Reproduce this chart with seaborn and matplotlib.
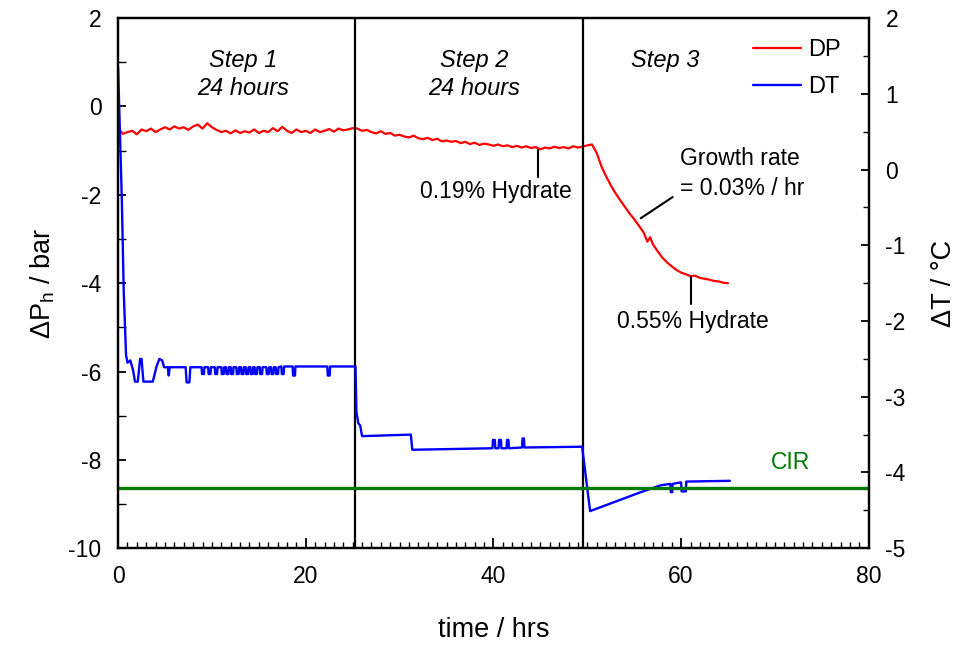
import matplotlib
matplotlib.use("Agg")
import matplotlib.pyplot as plt
import pandas as pd
import seaborn as sns
from matplotlib.ticker import MultipleLocator

# ---------------- data ----------------
dp_time = [0, 0.25, 0.5, 1, 1.5, 2, 2.5, 3, 3.5, 4, 4.5, 5, 5.5, 6, 6.5, 7, 7.5, 8, 8.5, 9,
           9.5, 10, 10.5, 11, 11.5, 12, 12.5, 13, 13.5, 14, 14.5, 15, 15.5, 16, 16.5, 17,
           17.5, 18, 18.5, 19, 19.5, 20, 20.5, 21, 21.5, 22, 22.5, 23, 23.5, 24, 24.5, 25,
           25.5, 26, 26.5, 27, 27.5, 28, 28.5, 29, 29.5, 30, 30.5, 31, 31.5, 32, 32.5, 33,
           33.5, 34, 34.5, 35, 35.5, 36, 36.5, 37, 37.5, 38, 38.5, 39, 39.5, 40, 40.5, 41,
           41.5, 42, 42.5, 43, 43.5, 44, 44.5, 45, 45.5, 46, 46.5, 47, 47.5, 48, 48.5, 49,
           49.5, 50.0, 50.5, 51.0, 51.5, 52.0, 52.5, 53.0, 53.5, 54.0, 54.5, 55.0, 55.5,
           56.0, 56.4, 56.7, 57.0, 57.5, 58.0, 58.5, 59.0, 59.5, 60.0, 60.5, 61.0, 61.5,
           62.0, 62.5, 63.0, 63.5, 64.0, 64.5, 65.0]
dp_bar = [-0.85, -0.55, -0.62, -0.58, -0.55, -0.63, -0.52, -0.56, -0.50, -0.58, -0.52, -0.47,
          -0.52, -0.45, -0.50, -0.47, -0.53, -0.45, -0.41, -0.50, -0.38, -0.47, -0.53, -0.58,
          -0.55, -0.61, -0.54, -0.60, -0.56, -0.59, -0.52, -0.60, -0.55, -0.58, -0.49, -0.56,
          -0.46, -0.55, -0.60, -0.52, -0.58, -0.55, -0.60, -0.52, -0.58, -0.55, -0.51, -0.57,
          -0.50, -0.54, -0.52, -0.49,
          -0.50, -0.55, -0.53, -0.58, -0.61, -0.56, -0.62, -0.60, -0.66, -0.64, -0.68, -0.70,
          -0.66, -0.72, -0.74, -0.71, -0.76, -0.73, -0.79, -0.77, -0.80, -0.78, -0.83, -0.80,
          -0.85, -0.82, -0.87, -0.84, -0.86, -0.89, -0.86, -0.90, -0.88, -0.92, -0.89, -0.93,
          -0.90, -0.94, -0.92, -0.97, -0.93, -0.95, -0.91, -0.94, -0.92, -0.95, -0.90, -0.93,
          -0.91,
          -0.88, -0.86, -1.05, -1.35, -1.58, -1.78, -1.96, -2.12, -2.27, -2.42, -2.55, -2.70,
          -2.85, -3.06, -2.96, -3.12, -3.28, -3.42, -3.53, -3.62, -3.70, -3.76, -3.80, -3.84,
          -3.83, -3.88, -3.90, -3.92, -3.95, -3.96, -3.99, -4.00]

dt_time = [0.0, 0.2, 0.4, 0.6, 0.85, 1.0, 1.3, 1.6, 1.8, 2.1, 2.35, 2.5, 2.7, 3.7, 4.1, 4.4,
           4.7, 4.9, 5.3, 5.4, 5.5, 7.2, 7.3, 7.6, 7.7,
           8.9, 8.95, 9.15, 9.2, 9.6, 9.65, 9.85, 9.9, 10.3, 10.35, 10.55, 10.6,
           11.0, 11.05, 11.25, 11.3, 11.5, 11.55, 11.75, 11.8, 12.0, 12.05, 12.25, 12.3,
           12.6, 12.65, 12.85, 12.9, 13.1, 13.15, 13.35, 13.4, 13.6, 13.65, 13.85, 13.9,
           14.1, 14.15, 14.35, 14.4, 14.55, 14.6, 14.8, 14.85, 15.1, 15.15, 15.35, 15.4,
           15.8, 15.85, 16.05, 16.1, 16.3, 16.35, 16.55, 16.6, 16.8, 16.85, 17.05, 17.1,
           17.4, 17.45, 17.65, 17.7, 18.6, 18.65, 18.85, 18.9, 22.3, 22.35, 22.55, 22.6,
           25.3, 25.4, 25.6, 25.8, 26.0, 31.2, 31.35,
           39.9, 39.95, 40.15, 40.2, 40.55, 40.6, 40.8, 40.85, 41.4, 41.45, 41.6, 41.65,
           43.05, 43.1, 43.25, 43.3, 49.45,
           50.3, 55.7, 57.8, 58.85, 58.9, 59.05, 59.1, 60.0, 60.05, 60.5, 60.55, 65.2]
dt_degc = [1.35, 0.5, -0.4, -1.6, -2.45, -2.55, -2.52, -2.65, -2.8, -2.8, -2.5, -2.5, -2.8, -2.8,
           -2.6, -2.5, -2.52, -2.61, -2.61, -2.72, -2.61, -2.61, -2.81, -2.81, -2.61,
           -2.61, -2.70, -2.70, -2.61, -2.61, -2.70, -2.70, -2.61, -2.61, -2.70, -2.70, -2.61,
           -2.61, -2.70, -2.70, -2.61, -2.61, -2.70, -2.70, -2.61, -2.61, -2.70, -2.70, -2.61,
           -2.61, -2.70, -2.70, -2.61, -2.61, -2.70, -2.70, -2.61, -2.61, -2.70, -2.70, -2.61,
           -2.61, -2.70, -2.70, -2.61, -2.61, -2.70, -2.70, -2.61, -2.61, -2.70, -2.70, -2.61,
           -2.61, -2.70, -2.70, -2.61, -2.61, -2.70, -2.70, -2.61, -2.61, -2.70, -2.70, -2.61,
           -2.60, -2.70, -2.70, -2.60, -2.60, -2.72, -2.72, -2.60, -2.60, -2.72, -2.72, -2.60,
           -2.60, -3.20, -3.35, -3.38, -3.52, -3.50, -3.70,
           -3.68, -3.57, -3.57, -3.68, -3.68, -3.57, -3.57, -3.68, -3.68, -3.57, -3.57, -3.68,
           -3.67, -3.55, -3.55, -3.67, -3.66,
           -4.51, -4.26, -4.17, -4.15, -4.26, -4.26, -4.15, -4.13, -4.25, -4.25, -4.12, -4.11]

step_bounds = [25.3, 49.5]
cir_degc = -4.21
step_labels = ["Step 1\n24 hours", "Step 2\n24 hours", "Step 3"]
step_label_x = [13.3, 37.9, 58.3]

# ---------------- style ----------------
sns.set_style("ticks")
plt.rcParams["font.family"] = ["Liberation Sans", "DejaVu Sans"]
plt.rcParams["axes.unicode_minus"] = False
plt.rcParams["mathtext.fontset"] = "custom"
plt.rcParams["mathtext.rm"] = "Liberation Sans"
plt.rcParams["mathtext.it"] = "Liberation Sans:italic"
for k in ["text.color", "axes.labelcolor", "xtick.color", "ytick.color", "axes.edgecolor"]:
    plt.rcParams[k] = "black"

fig, ax = plt.subplots(figsize=(9.6, 6.48), dpi=100)
fig.subplots_adjust(left=0.123, right=0.905, bottom=0.154, top=0.972)
ax2 = ax.twinx()

dp_df = pd.DataFrame({"time": dp_time, "dp": dp_bar})
dt_df = pd.DataFrame({"time": dt_time, "dt": dt_degc})

sns.lineplot(data=dp_df, x="time", y="dp", ax=ax, color="#ff0000", lw=1.6,
             estimator=None, sort=False, label="DP", legend=False)
sns.lineplot(data=dt_df, x="time", y="dt", ax=ax2, color="#0000ff", lw=1.7,
             estimator=None, sort=False, label="DT", legend=False)

for xb in step_bounds:
    ax.axvline(xb, color="black", lw=1.6)
ax2.axhline(cir_degc, color="#007a00", lw=2.4)

ax.set_xlim(0, 80)
ax.set_ylim(-10, 2)
ax2.set_ylim(-5, 2)

ax.xaxis.set_major_locator(MultipleLocator(20))
ax.xaxis.set_minor_locator(MultipleLocator(1))
ax.yaxis.set_major_locator(MultipleLocator(2))
ax.yaxis.set_minor_locator(MultipleLocator(1))
ax2.yaxis.set_major_locator(MultipleLocator(1))
ax2.yaxis.set_minor_locator(MultipleLocator(0.5))

for a in (ax, ax2):
    a.tick_params(which="major", direction="in", length=6, width=1.3, labelsize=16.5, pad=12)
    a.tick_params(which="minor", direction="in", length=4, width=1.0)
    for s in a.spines.values():
        s.set_linewidth(1.6)
        s.set_color("black")
ax.tick_params(axis="x", which="both", top=False)
ax.tick_params(axis="x", which="major", length=7)
ax.tick_params(axis="y", which="minor", length=6)

ax.set_xlabel("time / hrs", fontsize=19.5, labelpad=21)
ax.set_ylabel("ΔP$_\\mathrm{h}$ / bar", fontsize=19.5, labelpad=8)
ax2.set_ylabel("ΔT / °C", fontsize=19.5, labelpad=18)

# step annotations
for lx, lab in zip(step_label_x, step_labels):
    ax.text(lx, 1.3, lab, ha="center", va="top", fontsize=17, style="italic",
            linespacing=1.3)

# hydrate annotations
ax.plot([44.8, 44.8], [-0.99, -1.6], color="black", lw=1.5)
ax.text(40.3, -1.92, "0.19% Hydrate", ha="center", va="center", fontsize=16.5)
ax.plot([61.1, 61.1], [-3.86, -4.47], color="black", lw=1.5)
ax.text(61.3, -4.86, "0.55% Hydrate", ha="center", va="center", fontsize=16.5)
ax.plot([55.7, 59.1], [-2.53, -2.05], color="black", lw=1.5)
ax.text(59.9, -1.52, "Growth rate\n= 0.03% / hr", ha="left", va="center", fontsize=16.5,
        linespacing=1.38)
ax.text(71.7, -8.07, "CIR", ha="center", va="center", fontsize=16.5, color="#007a00")

h1, l1 = ax.get_legend_handles_labels()
h2, l2 = ax2.get_legend_handles_labels()
ax2.legend(h1 + h2, l1 + l2, loc="upper left", bbox_to_anchor=(0.8455, 0.960),
           frameon=False, fontsize=17, handlelength=2.05, labelspacing=0.62,
           handletextpad=0.3, borderpad=0, borderaxespad=0)

fig.savefig("out.png", dpi=100)
